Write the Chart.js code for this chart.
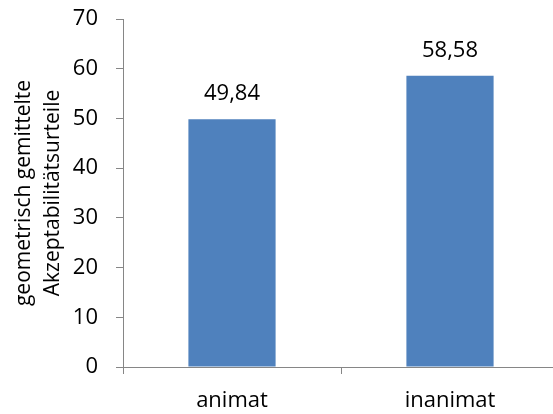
<!DOCTYPE html>
<html>
<head>
<meta charset="utf-8">
<script src="https://cdn.jsdelivr.net/npm/chart.js@4/dist/chart.umd.min.js"></script>
<style>
  html, body { margin: 0; padding: 0; background: #ffffff; overflow: hidden; }
  #wrap { position: relative; width: 559px; height: 414px; }
</style>
</head>
<body>
<div id="wrap"><canvas id="c"></canvas></div>
<script>
// Kategorien und Mittelwerte
const categories = ['animat', 'inanimat'];
const values = [49.84, 58.58];
const yTicks = [0, 10, 20, 30, 40, 50, 60, 70];
const axisTitle = ['geometrisch gemittelte', 'Akzeptabilitätsurteile'];

const FONT = "'Open Sans', 'Liberation Sans', sans-serif";
const AXIS_COLOR = '#868686';
const BAR_COLOR = '#4F81BD';

const fmt = v => v.toFixed(2).replace('.', ',');

// Werte über den Balken beschriften
const valueLabels = {
  id: 'valueLabels',
  afterDatasetsDraw(chart) {
    const ctx = chart.ctx;
    const meta = chart.getDatasetMeta(0);
    ctx.save();
    ctx.font = '22px ' + FONT;
    ctx.fillStyle = '#000000';
    ctx.textAlign = 'center';
    ctx.textBaseline = 'alphabetic';
    meta.data.forEach((bar, i) => {
      const v = chart.data.datasets[0].data[i];
      ctx.fillText(fmt(v), bar.x, bar.y - 19);
    });
    ctx.restore();
  }
};

new Chart(document.getElementById('c'), {
  type: 'bar',
  data: {
    labels: categories,
    datasets: [{
      data: values,
      backgroundColor: BAR_COLOR,
      borderWidth: 0,
      categoryPercentage: 1.0,
      barPercentage: 0.4
    }]
  },
  options: {
    responsive: true,
    maintainAspectRatio: false,
    animation: false,
    devicePixelRatio: 1,
    layout: { padding: { top: 19, right: 0, bottom: 0, left: 0 } },
    plugins: {
      legend: { display: false },
      tooltip: { enabled: false }
    },
    scales: {
      x: {
        offset: true,
        grid: {
          offset: true,
          drawOnChartArea: false,
          drawTicks: true,
          tickLength: 7,
          color: AXIS_COLOR,
          lineWidth: 1
        },
        border: { color: AXIS_COLOR, width: 1 },
        ticks: {
          color: '#000000',
          font: { family: FONT, size: 22 },
          padding: 14,
          maxRotation: 0
        },
        afterFit(scale) {
          scale.height = 47;
          scale.paddingLeft = 0;
          scale.paddingRight = 0;
        }
      },
      y: {
        min: 0,
        max: 70,
        afterBuildTicks(scale) { scale.ticks = yTicks.map(v => ({ value: v })); },
        grid: {
          drawOnChartArea: false,
          drawTicks: true,
          tickLength: 7,
          color: AXIS_COLOR,
          lineWidth: 1
        },
        border: { color: AXIS_COLOR, width: 1 },
        ticks: {
          color: '#000000',
          font: { family: FONT, size: 22 },
          padding: 18
        },
        title: {
          display: true,
          text: axisTitle,
          color: '#000000',
          font: { family: FONT, size: 21, lineHeight: 1.35 },
          padding: { top: 10, bottom: 0 }
        },
        afterFit(scale) {
          scale.width = 123;
          scale.paddingTop = 0;
          scale.paddingBottom = 0;
        }
      }
    }
  },
  plugins: [valueLabels]
});
</script>
</body>
</html>
